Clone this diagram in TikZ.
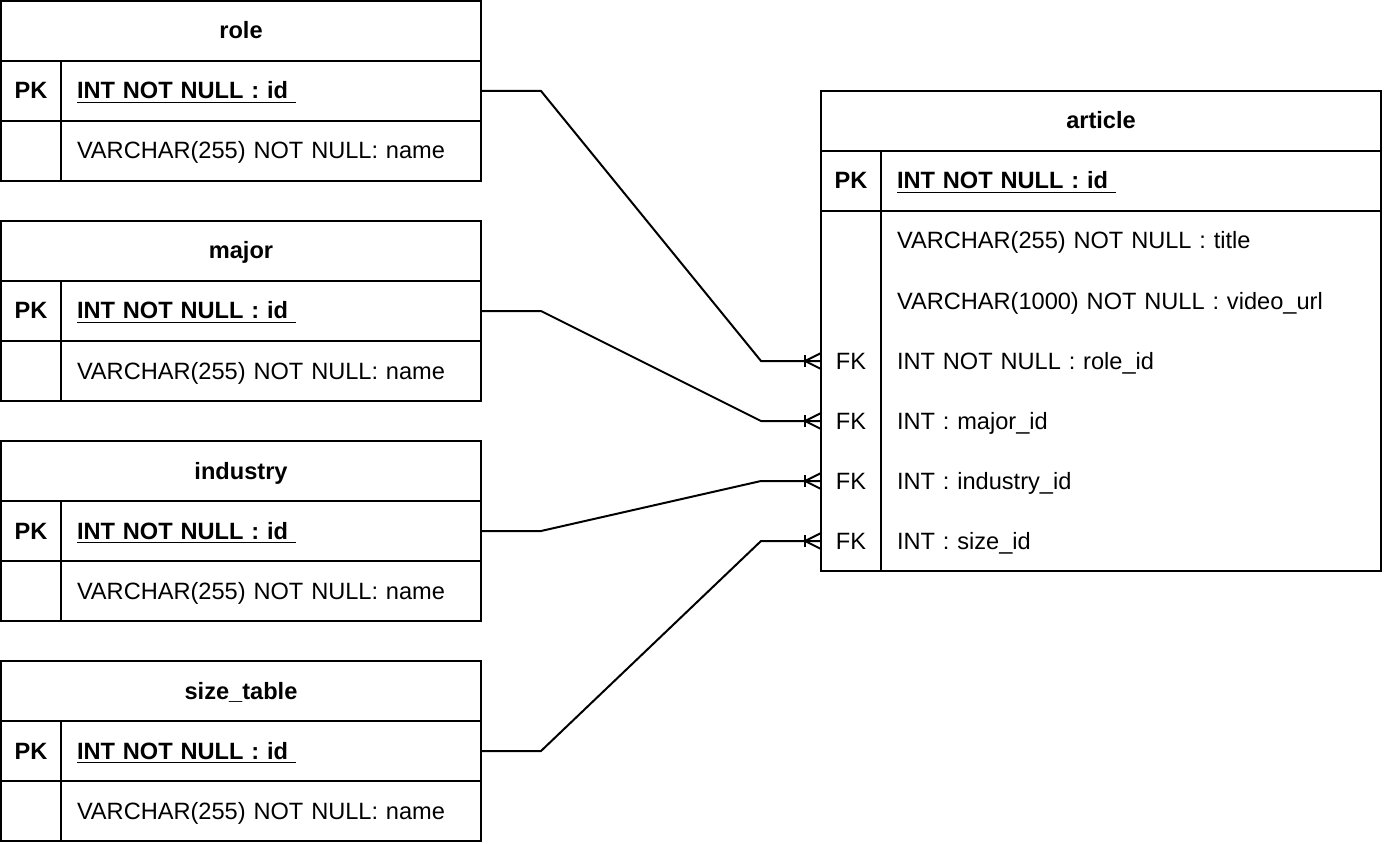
\documentclass[tikz,border=0pt]{standalone}
\usepackage{fontspec}
\setmainfont{Liberation Sans}
\newcommand\tfont{\fontsize{11.8}{14}\selectfont}
\newcommand\lefttable[3]{%
  \node[hdr] (#1) at (241,#3+30) {#2};
  \node[keycell, font=\tfont\bfseries] (#1pkkey) at (31,#3+90) {PK};
  \node[fieldcell, font=\tfont\bfseries] (#1pk) at (271,#3+90) {\underline{INT NOT NULL : id\ }};
  \node[keycell] (#1nkey) at (31,#3+150) {};
  \node[fieldcell] (#1name) at (271,#3+150) {VARCHAR(255) NOT NULL: name};
}
\begin{document}
\begin{tikzpicture}[x=0.5pt,y=-0.5pt, line width=1pt,
  every node/.style={inner sep=0pt, outer sep=0pt, font=\tfont, text height=8pt, text depth=0pt},
  hdr/.style={draw, minimum width=240pt, minimum height=30pt, font=\tfont\bfseries},
  keycell/.style={draw, minimum width=30pt, minimum height=30pt},
  fieldcell/.style={draw, minimum height=30pt, text width=194pt, inner xsep=8pt, align=left},
  akey/.style={minimum width=30pt, minimum height=30pt},
  afield/.style={minimum height=30pt, text width=234pt, inner xsep=8pt, align=left},
  conn/.style={line width=1pt},
  crow/.pic={\draw[line width=1pt] (-16,-6) -- (-16,6);
             \draw[line width=1pt] (0,-8) -- (-16,0);
             \draw[line width=1pt] (0,8) -- (-16,0);}
]
\useasboundingbox (0,0) rectangle (1384,844);

\lefttable{role}{role}{1}
\lefttable{major}{major}{221}
\lefttable{industry}{industry}{441}
\lefttable{size}{size\_table}{661}

% article
\node[draw, minimum width=280pt, minimum height=30pt, font=\tfont\bfseries] (article) at (1101,121) {article};
\node[keycell, font=\tfont\bfseries] (apkkey) at (851,181) {PK};
\node[draw, afield, font=\tfont\bfseries] (apk) at (1131,181) {\underline{INT NOT NULL : id\ }};
\draw (821,211) rectangle (1381,571);
\draw (881,211) -- (881,571);
\node[afield] (atitle) at (1131,241) {VARCHAR(255) NOT NULL : title};
\node[afield] (avideo) at (1131,301) {VARCHAR(1000) NOT NULL : video\_url};
\node[akey] (fk1) at (851,361) {FK};
\node[afield] (arole) at (1131,361) {INT NOT NULL : role\_id};
\node[akey] (fk2) at (851,421) {FK};
\node[afield] (amajor) at (1131,421) {INT : major\_id};
\node[akey] (fk3) at (851,481) {FK};
\node[afield] (aindustry) at (1131,481) {INT : industry\_id};
\node[akey] (fk4) at (851,541) {FK};
\node[afield] (asize) at (1131,541) {INT : size\_id};

% connectors
\draw[conn] (rolepk.east) -- ++(60,0) -- ([xshift=-30pt]fk1.west) -- (fk1.west);
\draw[conn] (majorpk.east) -- ++(60,0) -- ([xshift=-30pt]fk2.west) -- (fk2.west);
\draw[conn] (industrypk.east) -- ++(60,0) -- ([xshift=-30pt]fk3.west) -- (fk3.west);
\draw[conn] (sizepk.east) -- ++(60,0) -- ([xshift=-30pt]fk4.west) -- (fk4.west);
\pic at (fk1.west) {crow};
\pic at (fk2.west) {crow};
\pic at (fk3.west) {crow};
\pic at (fk4.west) {crow};
\end{tikzpicture}
\end{document}
